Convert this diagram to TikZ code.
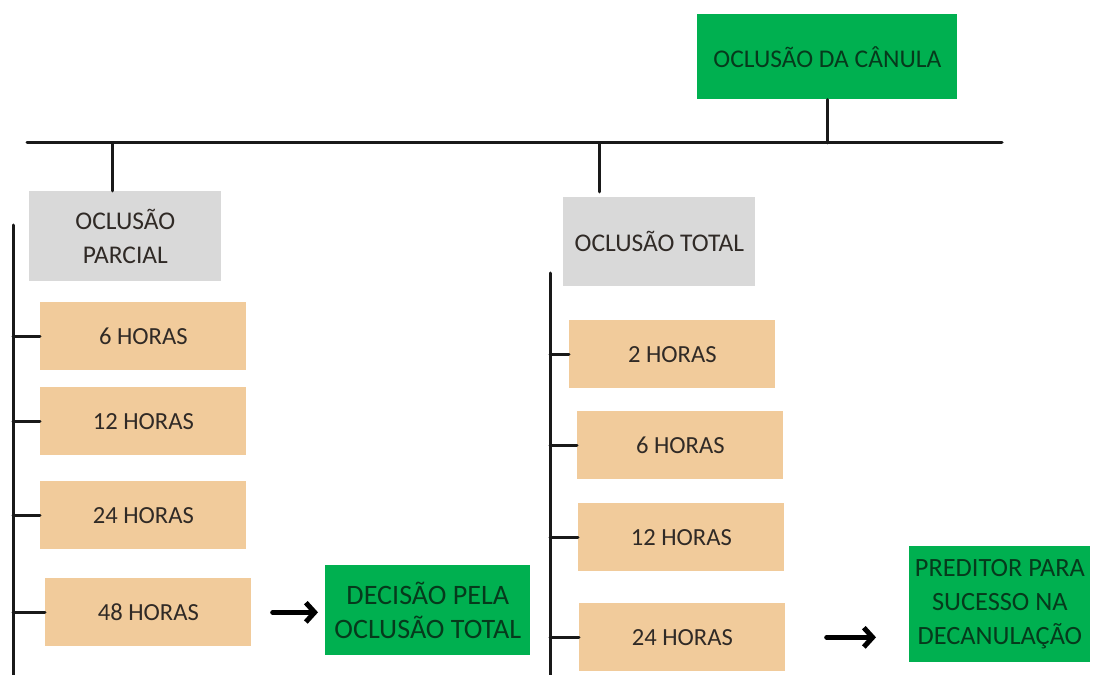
\documentclass[tikz,border=0pt]{standalone}
\usepackage{fontspec}
\setmainfont{Carlito}
\usetikzlibrary{arrows.meta,positioning}
\def\px{0.02cm}
\def\boxw{206}
\def\boxh{68}
\definecolor{verde}{RGB}{0,176,80}
\definecolor{verdetxt}{RGB}{6,58,28}
\definecolor{cinza}{RGB}{217,217,217}
\definecolor{bege}{RGB}{241,203,155}
\definecolor{texto}{RGB}{48,42,38}
\tikzset{
  caixa/.style={
    rectangle,anchor=north west,inner sep=0pt,
    text=texto,align=center,
    font=\fontsize{14.5}{19.5}\selectfont
},
  raiz/.style={caixa,fill=verde,text=verdetxt},
  ramo/.style={caixa,fill=cinza},
  hora/.style={caixa,fill=bege,
    minimum width=\boxw*\px,minimum height=\boxh*\px,
    font=\fontsize{14}{17}\selectfont},
  linha/.style={line width=3*\px,draw=black!90},
  seta/.style={line width=5*\px,-{Straight Barb[length=5pt,width=11pt]}}
}
\begin{document}
\begin{tikzpicture}[x=\px,y=-\px,line cap=round]
\useasboundingbox (0,0) rectangle (1093,675);
% topo e ramos
\node[raiz,minimum width=260*\px,minimum height=85*\px] (canula) at (697,14) {OCLUSÃO DA CÂNULA};
\node[ramo,minimum width=192*\px,minimum height=90*\px] (parcial) at (29,191) {OCLUSÃO\\PARCIAL};
\node[ramo,minimum width=192*\px,minimum height=89*\px] (total) at (563,197) {OCLUSÃO TOTAL};
% horas
\foreach \nome/\txt/\x/\y in {p6/6 HORAS/40/302,p12/12 HORAS/40/387,p24/24 HORAS/40/481,p48/48 HORAS/45/578}
    \node[hora] (\nome) at (\x,\y) {\txt};
\foreach \nome/\txt/\x/\y in {t2/2 HORAS/569/320,t6/6 HORAS/577/411,t12/12 HORAS/578/503,t24/24 HORAS/579/603}
    \node[hora] (\nome) at (\x,\y) {\txt};
% resultados
\node[raiz,minimum width=205*\px,minimum height=90*\px,font=\fontsize{16}{19.5}\selectfont] (decisao) at (325,565) {DECISÃO PELA\\OCLUSÃO TOTAL};
\node[raiz,minimum width=181*\px,minimum height=116*\px,font=\fontsize{15}{19.5}\selectfont] (preditor) at (909,546) {PREDITOR PARA\\SUCESSO NA\\DECANULAÇÃO};
% barramento
\coordinate (busL) at (27,143);
\coordinate (busR) at (1002,143);
\coordinate (dropP) at (112,143);
\coordinate (dropT) at (599,143);
\coordinate (lbar) at (13,225);
\coordinate (lbarEnd) at (13,675);
\coordinate (rbar) at (550,273);
\coordinate (rbarEnd) at (550,675);
\draw[linha] (busL) -- (busR);
\draw[linha] (canula.south) -- (canula.south |- busL);
\draw[linha] (dropP) -- (dropP |- parcial.north);
\draw[linha] (dropT) -- ([yshift=5*\px]dropT |- total.north);
\draw[linha] (lbar) -- (lbarEnd);
\draw[linha] (rbar) -- (rbarEnd);
\foreach \nome in {p6,p12,p24,p48}
    \draw[linha] (\nome.west) -- (\nome.west -| lbar);
\foreach \nome in {t2,t6,t12,t24}
    \draw[linha] (\nome.west) -- (\nome.west -| rbar);
% setas
\draw[seta,shorten <=21*\px,shorten >=7*\px] (p48.east) -- (p48.east -| decisao.west);
\draw[seta,shorten <=41*\px,shorten >=33*\px] (t24.east) -- (t24.east -| preditor.west);
\end{tikzpicture}
\end{document}
